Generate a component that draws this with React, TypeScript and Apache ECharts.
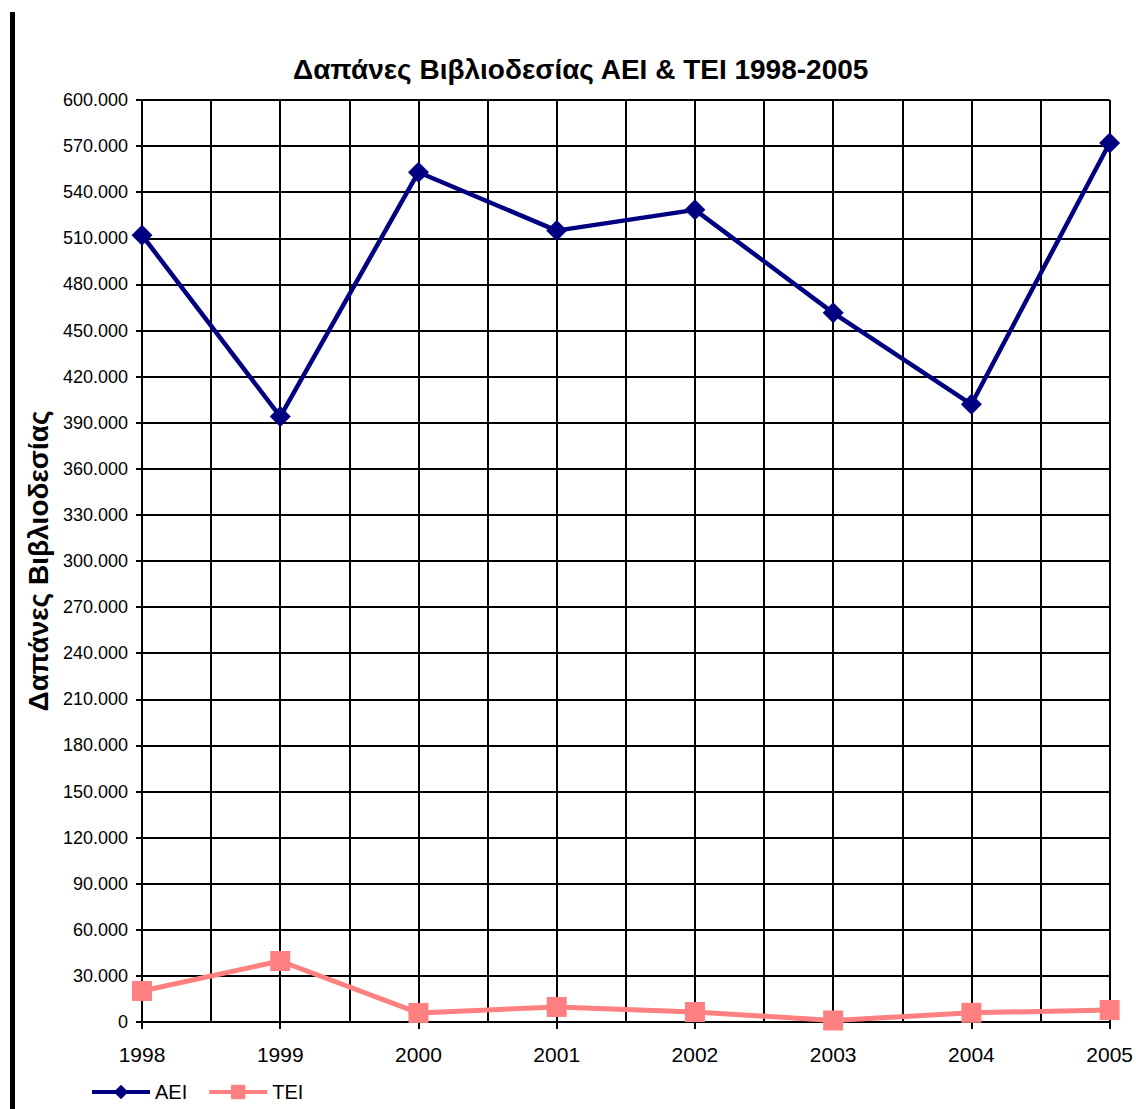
import React, { useEffect, useRef } from "react";
import * as echarts from "echarts";

const years = [1998, 1999, 2000, 2001, 2002, 2003, 2004, 2005];
const aeiValues = [512000, 394000, 553000, 515000, 528500, 461500, 402000, 572000];
const teiValues = [20200, 39700, 5900, 9800, 6500, 1000, 6000, 7800];
const titleText = "Δαπάνες Βιβλιοδεσίας ΑΕΙ & ΤΕΙ 1998-2005";
const yAxisTitle = "Δαπάνες Βιβλιοδεσίας";

const FONT = "Arial, 'Liberation Sans', sans-serif";

function fmt(v: number): string {
  if (v === 0) return "0";
  const s = String(Math.round(v));
  return s.replace(/\B(?=(\d{3})+(?!\d))/g, ".");
}

export default function App() {
  const ref = useRef<HTMLDivElement>(null);
  useEffect(() => {
    if (!ref.current) return;
    const chart = echarts.init(ref.current, null, { renderer: "svg" });
    const gridLine = { show: true, lineStyle: { color: "#000", width: 2 } };
    chart.setOption({
      animation: false,
      backgroundColor: "#fff",
      title: {
        text: titleText,
        left: 288,
        top: 50,
        textStyle: { fontFamily: FONT, fontSize: 28, fontWeight: "bold", color: "#000" },
      },
      legend: {
        left: 85,
        top: 1077,
        itemWidth: 58,
        itemHeight: 18,
        itemGap: 20,
        lineStyle: { width: 4 },
        textStyle: { fontFamily: FONT, fontSize: 20, color: "#000" },
        data: [
          { name: "AEI", itemStyle: { color: "#000080" } },
          { name: "TEI", itemStyle: { color: "#FF8080" } },
        ],
      },
      graphic: [
        { type: "rect", shape: { x: 10, y: 12, width: 5, height: 1100 }, style: { fill: "#000" } },
      ],
      grid: { left: 142, right: 24, top: 100, bottom: 87 },
      xAxis: {
        type: "value",
        min: 1998,
        max: 2005,
        interval: 1,
        axisLine: { show: true, lineStyle: { color: "#000", width: 2 } },
        axisTick: { show: true, length: 7, lineStyle: { color: "#000", width: 2 } },
        axisLabel: {
          margin: 22,
          fontFamily: FONT,
          fontSize: 21,
          color: "#000",
          formatter: (v: number) => String(v),
        },
        splitLine: gridLine,
        minorTick: { show: false, splitNumber: 2 },
        minorSplitLine: gridLine,
      },
      yAxis: {
        type: "value",
        min: 0,
        max: 600000,
        interval: 30000,
        name: yAxisTitle,
        nameLocation: "middle",
        nameRotate: 90,
        nameGap: 79,
        nameTextStyle: { fontFamily: FONT, fontSize: 28, fontWeight: "bold", color: "#000" },
        axisLine: { show: true, lineStyle: { color: "#000", width: 2 } },
        axisTick: { show: true, length: 6, lineStyle: { color: "#000", width: 2 } },
        axisLabel: {
          margin: 14,
          fontFamily: FONT,
          fontSize: 18,
          color: "#000",
          formatter: (v: number) => fmt(v),
        },
        splitLine: gridLine,
      },
      series: [
        {
          name: "AEI",
          type: "line",
          data: years.map((y, i) => [y, aeiValues[i]]),
          symbol: "diamond",
          symbolSize: 21,
          lineStyle: { color: "#000080", width: 4.5 },
          itemStyle: { color: "#000080" },
          z: 5,
        },
        {
          name: "TEI",
          type: "line",
          data: years.map((y, i) => [y, teiValues[i]]),
          symbol: "rect",
          symbolSize: 20,
          lineStyle: { color: "#FF8080", width: 5 },
          itemStyle: { color: "#FF8080" },
          z: 5,
        },
      ],
    });
    return () => chart.dispose();
  }, []);
  return (
    <div
      ref={ref}
      style={{ position: "fixed", left: 0, top: 0, width: 1136, height: 1109 }}
    />
  );
}
